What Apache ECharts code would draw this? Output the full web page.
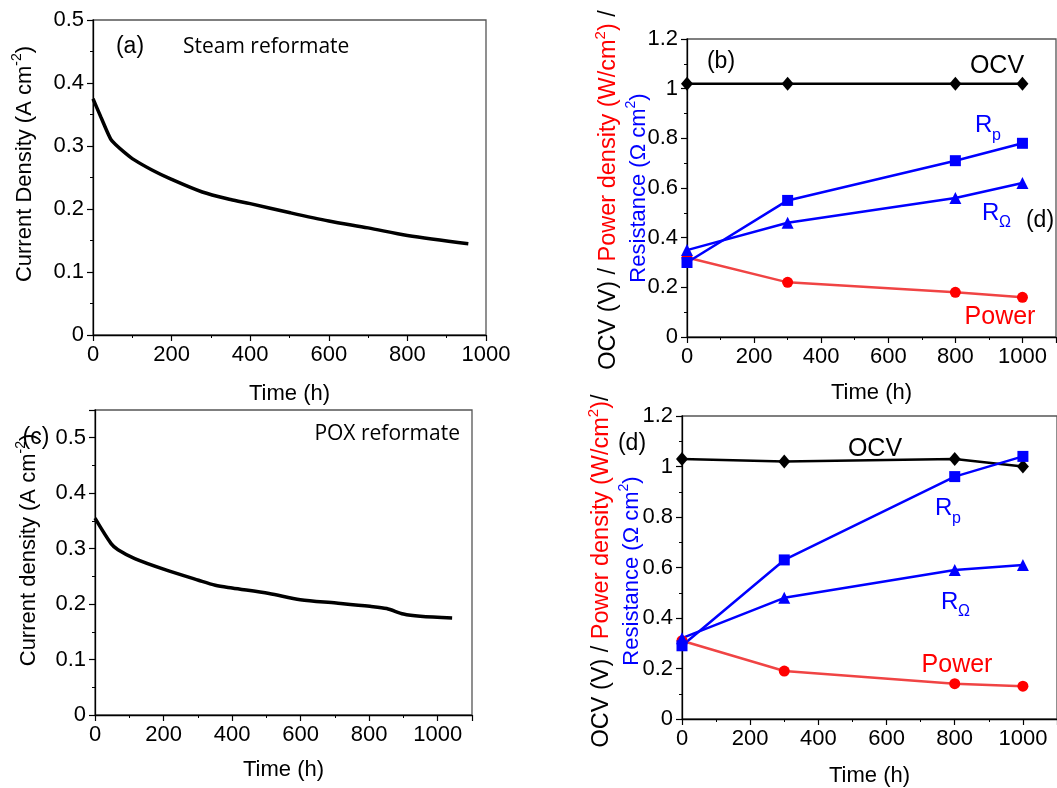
<!DOCTYPE html>
<html>
<head>
<meta charset="utf-8">
<script src="https://cdn.jsdelivr.net/npm/echarts@6/dist/echarts.min.js"></script>
<style>
  html, body { margin: 0; padding: 0; background: #fff; }
  #chart { width: 1057px; height: 788px; }
</style>
</head>
<body>
<div id="chart"></div>
<script>
// (a) steam reformate, current density vs time
const timeA = [0, 20, 45, 58, 80, 105, 150, 200, 278, 350, 400, 502, 600, 700, 800, 955];
const currentA = [0.375, 0.346, 0.311, 0.302, 0.290, 0.278, 0.262, 0.247, 0.227, 0.215, 0.2085, 0.194, 0.181, 0.170, 0.158, 0.145];

// (c) POX reformate
const timeC = [0, 47, 67, 116, 200, 302, 351, 400, 508, 599, 704, 802, 851, 900, 949, 1042];
const currentC = [0.355, 0.309, 0.298, 0.282, 0.263, 0.243, 0.234, 0.229, 0.219, 0.208, 0.202, 0.196, 0.192, 0.182, 0.178, 0.175];

// (b) and (d) sampled at these times
const timeBD = [0, 300, 800, 1000];
const ocvB = [1.02, 1.02, 1.02, 1.02];
const rpB = [0.30, 0.55, 0.71, 0.78];
const rohmB = [0.35, 0.46, 0.56, 0.62];
const powerB = [0.32, 0.22, 0.18, 0.16];

const ocvD = [1.03, 1.02, 1.03, 1.00];
const rpD = [0.29, 0.63, 0.96, 1.04];
const rohmD = [0.32, 0.48, 0.59, 0.61];
const powerD = [0.31, 0.19, 0.14, 0.13];

const FONT = 'Liberation Sans';
const BLUE = '#0000ff';
const RED = '#ff0000';

function pairs(xs, ys) {
    return xs.map((x, i) => [x, ys[i]]);
}

// hideMax: drop the label at the axis end when it is not a round tick (1100, 0.55)
function axisBase(extra, hideMax) {
    return Object.assign({
        type: 'value',
        axisLine: { show: true, onZero: false, lineStyle: { color: '#000', width: 1.3 } },
        axisTick: { show: true, inside: false, length: 6, lineStyle: { color: '#000', width: 1.2 } },
        minorTick: { show: true, splitNumber: 2, length: 3, lineStyle: { color: '#000', width: 1 } },
        splitLine: { show: false },
        axisLabel: {
            fontSize: 22, fontFamily: FONT, color: '#000', margin: 9, showMaxLabel: !hideMax,
            formatter: v => String(v)
        },
        nameTextStyle: { fontSize: 22, fontFamily: FONT, color: '#000' }
    }, extra);
}

function gridBox(left, top, width, height) {
    return { left, top, width, height, show: true, borderColor: '#555', borderWidth: 1.3, containLabel: false };
}

function lineSeries(idx, data, color, symbol, size, width, lineColor) {
    return {
        type: 'line',
        xAxisIndex: idx,
        yAxisIndex: idx,
        data: data,
        symbol: symbol,
        symbolSize: size,
        clip: false,
        lineStyle: { color: lineColor || color, width: width },
        itemStyle: { color: color },
        z: 3
    };
}

function richSet(size) {
    const sup = Math.round(size * 0.62);
    return {
        k: { fontSize: size, fontFamily: FONT, fill: '#000', verticalAlign: 'bottom', lineHeight: size + 4 },
        ks: { fontSize: sup, fontFamily: FONT, fill: '#000', verticalAlign: 'top', lineHeight: size + 4 },
        r: { fontSize: size, fontFamily: FONT, fill: RED, verticalAlign: 'bottom', lineHeight: size + 4 },
        rs: { fontSize: sup, fontFamily: FONT, fill: RED, verticalAlign: 'top', lineHeight: size + 4 },
        b: { fontSize: size, fontFamily: FONT, fill: BLUE, verticalAlign: 'bottom', lineHeight: size + 4 },
        bs: { fontSize: sup, fontFamily: FONT, fill: BLUE, verticalAlign: 'top', lineHeight: size + 4 }
    };
}

function vText(x, y, text, size) {
    return {
        type: 'text', x: x, y: y, rotation: Math.PI / 2, z: 10,
        style: { text: text, rich: richSet(size || 22), align: 'center', verticalAlign: 'middle' }
    };
}

function label(x, y, text, size, color, family, align) {
    return {
        type: 'text', x: x, y: y, z: 10,
        style: {
            text: text, fontSize: size, fontFamily: family || FONT, fill: color || '#000',
            align: align || 'center', verticalAlign: 'middle'
        }
    };
}

// R with a subscript: two plain texts side by side
function subLabel(x, y, sub, dy) {
    return [
        { type: 'text', x: x, y: y, z: 10,
          style: { text: 'R', fontSize: 24, fontFamily: FONT, fill: BLUE, align: 'left', verticalAlign: 'middle' } },
        { type: 'text', x: x + 17, y: y + dy, z: 10,
          style: { text: sub, fontSize: 16, fontFamily: FONT, fill: BLUE, align: 'left', verticalAlign: 'middle' } }
    ];
}

const option = {
    animation: false,
    backgroundColor: '#fff',
    grid: [
        gridBox(93, 20, 393, 315),
        gridBox(687, 39, 369, 298),
        gridBox(95, 410, 377, 305),
        gridBox(682, 416, 375, 304)
    ],
    xAxis: [
        axisBase({ gridIndex: 0, min: 0, max: 1000, interval: 200,
            name: 'Time (h)', nameLocation: 'middle', nameGap: 48 }),
        axisBase({ gridIndex: 1, min: 0, max: 1100, interval: 200,
            name: 'Time (h)', nameLocation: 'middle', nameGap: 45 }, true),
        axisBase({ gridIndex: 2, min: 0, max: 1100, interval: 200,
            name: 'Time (h)', nameLocation: 'middle', nameGap: 44 }, true),
        axisBase({ gridIndex: 3, min: 0, max: 1100, interval: 200,
            name: 'Time (h)', nameLocation: 'middle', nameGap: 46 }, true)
    ],
    yAxis: [
        axisBase({ gridIndex: 0, min: 0, max: 0.5, interval: 0.1 }),
        axisBase({ gridIndex: 1, min: 0, max: 1.2, interval: 0.2 }),
        axisBase({ gridIndex: 2, min: 0, max: 0.55, interval: 0.1 }, true),
        axisBase({ gridIndex: 3, min: 0, max: 1.2, interval: 0.2 })
    ],
    series: [
        Object.assign(lineSeries(0, pairs(timeA, currentA), '#000', 'none', 0, 3.5), { smooth: 0.3 }),
        lineSeries(1, pairs(timeBD, powerB), RED, 'circle', 11, 2.5, '#f04444'),
        lineSeries(1, pairs(timeBD, ocvB), '#000', 'diamond', [12, 14], 2.5),
        lineSeries(1, pairs(timeBD, rohmB), BLUE, 'triangle', 12, 2.5),
        lineSeries(1, pairs(timeBD, rpB), BLUE, 'rect', 11, 2.5),
        Object.assign(lineSeries(2, pairs(timeC, currentC), '#000', 'none', 0, 3.5), { smooth: 0.3 }),
        lineSeries(3, pairs(timeBD, powerD), RED, 'circle', 11, 2.5, '#f04444'),
        lineSeries(3, pairs(timeBD, ocvD), '#000', 'diamond', [12, 14], 2.5),
        lineSeries(3, pairs(timeBD, rohmD), BLUE, 'triangle', 12, 2.5),
        lineSeries(3, pairs(timeBD, rpD), BLUE, 'rect', 11, 2.5)
    ],
    graphic: [
        // y-axis titles
        vText(23, 164, '{k|Current Density (A cm}{ks|-2}{k|)}'),
        vText(27, 550, '{k|Current density (A cm}{ks|-2}{k|)}'),
        vText(607, 190, '{k|OCV (V) / }{r|Power density (W/cm}{rs|2}{r|)}{k| /}', 23.5),
        vText(637, 188, '{b|Resistance (Ω cm}{bs|2}{b|)}'),
        vText(600, 571, '{k|OCV (V) / }{r|Power density (W/cm}{rs|2}{r|)}{k|/}', 23.5),
        vText(630, 571, '{b|Resistance (Ω cm}{bs|2}{b|)}'),
        // panel (a)
        label(130, 47, '(a)', 23),
        label(183, 47, 'Steam reformate', 21, '#000', 'Open Sans', 'left'),
        // panel (c)
        label(36, 438, '(c)', 23),
        label(460, 434, 'POX reformate', 21, '#000', 'Open Sans', 'right'),
        // panel (b)
        label(721, 62, '(b)', 23),
        label(997, 66, 'OCV', 25),
        label(1040, 221, '(d)', 23),
        label(1000, 317, 'Power', 25, RED),
        // panel (d)
        label(632, 444, '(d)', 23),
        label(875, 449, 'OCV', 25),
        label(957, 665, 'Power', 25, RED)
    ].concat(
        subLabel(975, 125, 'p', 11),
        subLabel(982, 213, 'Ω', 10),
        subLabel(935, 508, 'p', 11),
        subLabel(941, 602, 'Ω', 10)
    )
};

const chart = echarts.init(document.getElementById('chart'));
chart.setOption(option);
window.addEventListener('resize', function () {
    chart.resize();
});
</script>
</body>
</html>
